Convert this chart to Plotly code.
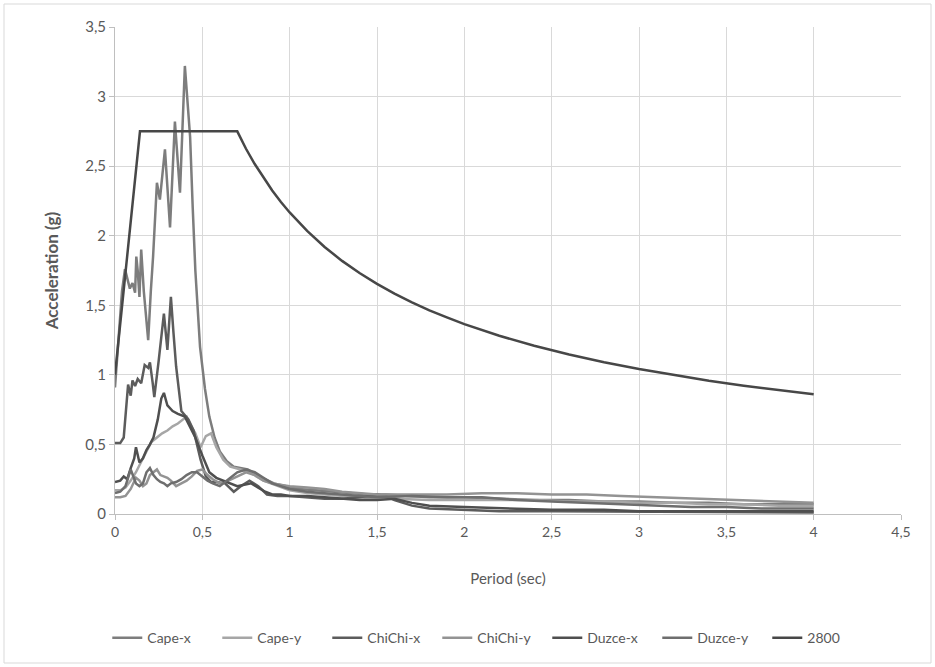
import plotly.graph_objects as go

# ---------------- data ----------------
cape_x_t = [0, 0.02, 0.04, 0.057, 0.07, 0.085, 0.10, 0.115, 0.122, 0.13, 0.14, 0.15, 0.165, 0.19,
            0.205, 0.218, 0.24, 0.257, 0.286, 0.315, 0.343, 0.372, 0.40, 0.43, 0.445, 0.46, 0.487,
            0.515, 0.54, 0.57, 0.60, 0.64, 0.68, 0.72, 0.76, 0.81, 0.86, 0.91, 0.98, 1.05, 1.15,
            1.25, 1.35, 1.45, 1.55, 1.65, 1.8, 2.0, 2.2, 2.4, 2.6, 2.8, 3.0, 3.2, 3.4, 3.6, 3.8, 4.0]
cape_x_a = [0.91, 1.25, 1.6, 1.76, 1.70, 1.62, 1.66, 1.59, 1.85, 1.75, 1.56, 1.90, 1.60, 1.25,
            1.60, 1.85, 2.38, 2.26, 2.62, 2.06, 2.82, 2.31, 3.22, 2.71, 2.2, 1.75, 1.2,
            0.9, 0.7, 0.55, 0.45, 0.38, 0.34, 0.33, 0.32, 0.28, 0.25, 0.22, 0.2, 0.18, 0.17,
            0.16, 0.15, 0.14, 0.14, 0.13, 0.12, 0.12, 0.11, 0.10, 0.10, 0.09, 0.09, 0.08, 0.08, 0.07, 0.07, 0.07]

cape_y_t = [0, 0.03, 0.06, 0.09, 0.12, 0.15, 0.18, 0.21, 0.24, 0.27, 0.30, 0.33, 0.36, 0.39, 0.41,
            0.44, 0.46, 0.49, 0.52, 0.55, 0.58, 0.62, 0.66, 0.72, 0.77, 0.85, 0.93, 1.0, 1.1, 1.2,
            1.3, 1.4, 1.5, 1.6, 1.8, 2.0, 2.2, 2.4, 2.6, 2.8, 3.0, 3.2, 3.4, 3.6, 3.8, 4.0]
cape_y_a = [0.17, 0.17, 0.19, 0.24, 0.3, 0.38, 0.45, 0.52, 0.55, 0.58, 0.6, 0.63, 0.65, 0.68, 0.70,
            0.62, 0.58, 0.48, 0.56, 0.58, 0.48, 0.39, 0.34, 0.32, 0.30, 0.24, 0.2, 0.17, 0.15, 0.14,
            0.13, 0.12, 0.11, 0.11, 0.10, 0.10, 0.10, 0.10, 0.09, 0.09, 0.08, 0.08, 0.07, 0.07, 0.06, 0.06]

chichi_x_t = [0, 0.03, 0.05, 0.065, 0.075, 0.09, 0.10, 0.115, 0.13, 0.15, 0.17, 0.19, 0.20, 0.215,
              0.225, 0.25, 0.28, 0.30, 0.32, 0.335, 0.35, 0.38, 0.42, 0.45, 0.49, 0.52, 0.55, 0.58,
              0.63, 0.68, 0.72, 0.77, 0.82, 0.87, 0.93, 1.0, 1.1, 1.2, 1.3, 1.4, 1.5, 1.55, 1.6,
              1.7, 1.8, 2.0, 2.2, 2.5, 3.0, 3.5, 4.0]
chichi_x_a = [0.51, 0.51, 0.55, 0.78, 0.93, 0.85, 0.96, 0.92, 0.97, 0.94, 1.07, 1.05, 1.09, 0.95,
              0.84, 1.1, 1.44, 1.18, 1.56, 1.3, 1.06, 0.74, 0.68, 0.60, 0.39, 0.27, 0.23, 0.23,
              0.22, 0.16, 0.2, 0.24, 0.2, 0.14, 0.13, 0.13, 0.12, 0.11, 0.11, 0.12, 0.14, 0.13, 0.10,
              0.06, 0.04, 0.03, 0.02, 0.02, 0.015, 0.01, 0.01]

chichi_y_t = [0, 0.03, 0.06, 0.09, 0.12, 0.14, 0.16, 0.18, 0.20, 0.22, 0.24, 0.26, 0.28, 0.30, 0.32,
              0.35, 0.38, 0.41, 0.44, 0.47, 0.50, 0.53, 0.56, 0.60, 0.65, 0.70, 0.75, 0.80, 0.85,
              0.9, 1.0, 1.1, 1.2, 1.3, 1.4, 1.5, 1.7, 1.9, 2.1, 2.3, 2.5, 2.7, 2.9, 3.1, 3.3, 3.5,
              3.7, 4.0]
chichi_y_a = [0.12, 0.12, 0.13, 0.18, 0.26, 0.24, 0.2, 0.22, 0.28, 0.3, 0.32, 0.28, 0.27, 0.26, 0.24,
              0.2, 0.22, 0.24, 0.27, 0.31, 0.32, 0.28, 0.25, 0.22, 0.24, 0.27, 0.3, 0.28, 0.24,
              0.22, 0.2, 0.19, 0.18, 0.16, 0.15, 0.14, 0.14, 0.14, 0.15, 0.15, 0.14, 0.14, 0.13,
              0.12, 0.11, 0.10, 0.09, 0.08]

duzce_x_t = [0, 0.03, 0.05, 0.07, 0.09, 0.11, 0.12, 0.14, 0.16, 0.18, 0.20, 0.22, 0.245, 0.265, 0.28,
             0.30, 0.33, 0.36, 0.40, 0.43, 0.46, 0.50, 0.54, 0.58, 0.62, 0.66, 0.70, 0.74, 0.78,
             0.82, 0.86, 0.90, 0.95, 1.0, 1.1, 1.2, 1.3, 1.4, 1.5, 1.6, 1.7, 1.8, 2.0, 2.2, 2.5,
             2.8, 3.0, 3.5, 4.0]
duzce_x_a = [0.23, 0.24, 0.27, 0.25, 0.33, 0.40, 0.48, 0.37, 0.40, 0.46, 0.50, 0.55, 0.68, 0.83, 0.87,
             0.78, 0.74, 0.72, 0.70, 0.62, 0.55, 0.42, 0.30, 0.26, 0.24, 0.22, 0.20, 0.21, 0.22,
             0.19, 0.16, 0.14, 0.14, 0.13, 0.13, 0.12, 0.11, 0.10, 0.10, 0.11, 0.08, 0.06, 0.05,
             0.04, 0.03, 0.03, 0.02, 0.02, 0.02]

duzce_y_t = chichi_y_t
duzce_y_a = [0.15, 0.16, 0.2, 0.32, 0.22, 0.2, 0.22, 0.3, 0.33, 0.28, 0.25, 0.23, 0.22, 0.2, 0.22,
             0.23, 0.25, 0.28, 0.3, 0.3, 0.27, 0.24, 0.22, 0.2, 0.25, 0.3, 0.32, 0.3, 0.26,
             0.22, 0.18, 0.16, 0.15, 0.14, 0.13, 0.12, 0.13, 0.12, 0.12, 0.10, 0.09, 0.08, 0.07,
             0.06, 0.05, 0.05, 0.04, 0.04]

code2800_t = [0, 0.143, 0.7, 0.75, 0.8, 0.85, 0.9, 0.95, 1.0, 1.1, 1.2, 1.3, 1.4, 1.5, 1.6, 1.7,
              1.8, 1.9, 2.0, 2.2, 2.4, 2.6, 2.8, 3.0, 3.2, 3.4, 3.6, 3.8, 4.0]
code2800_a = [1.0, 2.75, 2.75, 2.625, 2.515, 2.415, 2.325, 2.242, 2.167, 2.034, 1.919, 1.819, 1.732,
              1.654, 1.584, 1.521, 1.464, 1.413, 1.365, 1.281, 1.209, 1.146, 1.091, 1.042, 0.998,
              0.958, 0.922, 0.890, 0.860]

series_names = ["Cape-x", "Cape-y", "ChiChi-x", "ChiChi-y", "Duzce-x", "Duzce-y", "2800"]
series_t = [cape_x_t, cape_y_t, chichi_x_t, chichi_y_t, duzce_x_t, duzce_y_t, code2800_t]
series_a = [cape_x_a, cape_y_a, chichi_x_a, chichi_y_a, duzce_x_a, duzce_y_a, code2800_a]
colors = ["#7d7d7d", "#a6a6a6", "#5c5c5c", "#939393", "#4f4f4f", "#6e6e6e", "#474747"]

# ---------------- figure ----------------
W, H = 935, 667
ML, MR, MT, MB = 115, 34, 27, 153

fig = go.Figure()
for name, t, a, c in zip(series_names, series_t, series_a, colors):
    fig.add_trace(go.Scatter(x=t, y=a, mode="lines", name=name,
                             line=dict(color=c, width=2.5)))

fnt = "Lato, 'Open Sans', sans-serif"
fig.update_layout(
    width=W, height=H,
    margin=dict(l=ML, r=MR, t=MT, b=MB, autoexpand=False),
    paper_bgcolor="white", plot_bgcolor="white",
    separators=", ",
    font=dict(family=fnt, size=14, color="#595959"),
    showlegend=True,
    legend=dict(orientation="h", x=0.48, xanchor="center", y=-0.255, yanchor="middle",
                font=dict(family=fnt, size=14, color="#595959"),
                entrywidth=65, entrywidthmode="pixels", tracegroupgap=0),
    xaxis=dict(range=[0, 4.5], dtick=0.5, tick0=0, showgrid=True, gridcolor="#d9d9d9",
               gridwidth=1, zeroline=False, showline=True, linecolor="#bfbfbf",
               ticks="outside", ticklen=5, tickcolor="#bfbfbf",
               tickfont=dict(family=fnt, size=14, color="#595959"),
               title=dict(text="Period (sec)", standoff=34,
                          font=dict(family=fnt, size=15, color="#595959"))),
    yaxis=dict(range=[0, 3.5], dtick=0.5, tick0=0, showgrid=True, gridcolor="#d9d9d9",
               gridwidth=1, zeroline=False, showline=True, linecolor="#bfbfbf",
               ticks="outside", ticklen=5, tickcolor="#bfbfbf",
               tickfont=dict(family=fnt, size=15, color="#595959"),
               title=dict(text="<b>Acceleration (g)</b>", standoff=22,
                          font=dict(family=fnt, size=17, color="#595959"))),
)

# outer chart border (decoration)
pw, ph = W - ML - MR, H - MT - MB
fig.add_shape(type="rect", xref="paper", yref="paper",
              x0=(4 - ML) / pw, x1=(W - 4 - ML) / pw,
              y0=-(H - 4 - MT - ph) / ph, y1=1 + (MT - 4) / ph,
              line=dict(color="#d9d9d9", width=1), layer="below")

fig.write_html("out.html")
